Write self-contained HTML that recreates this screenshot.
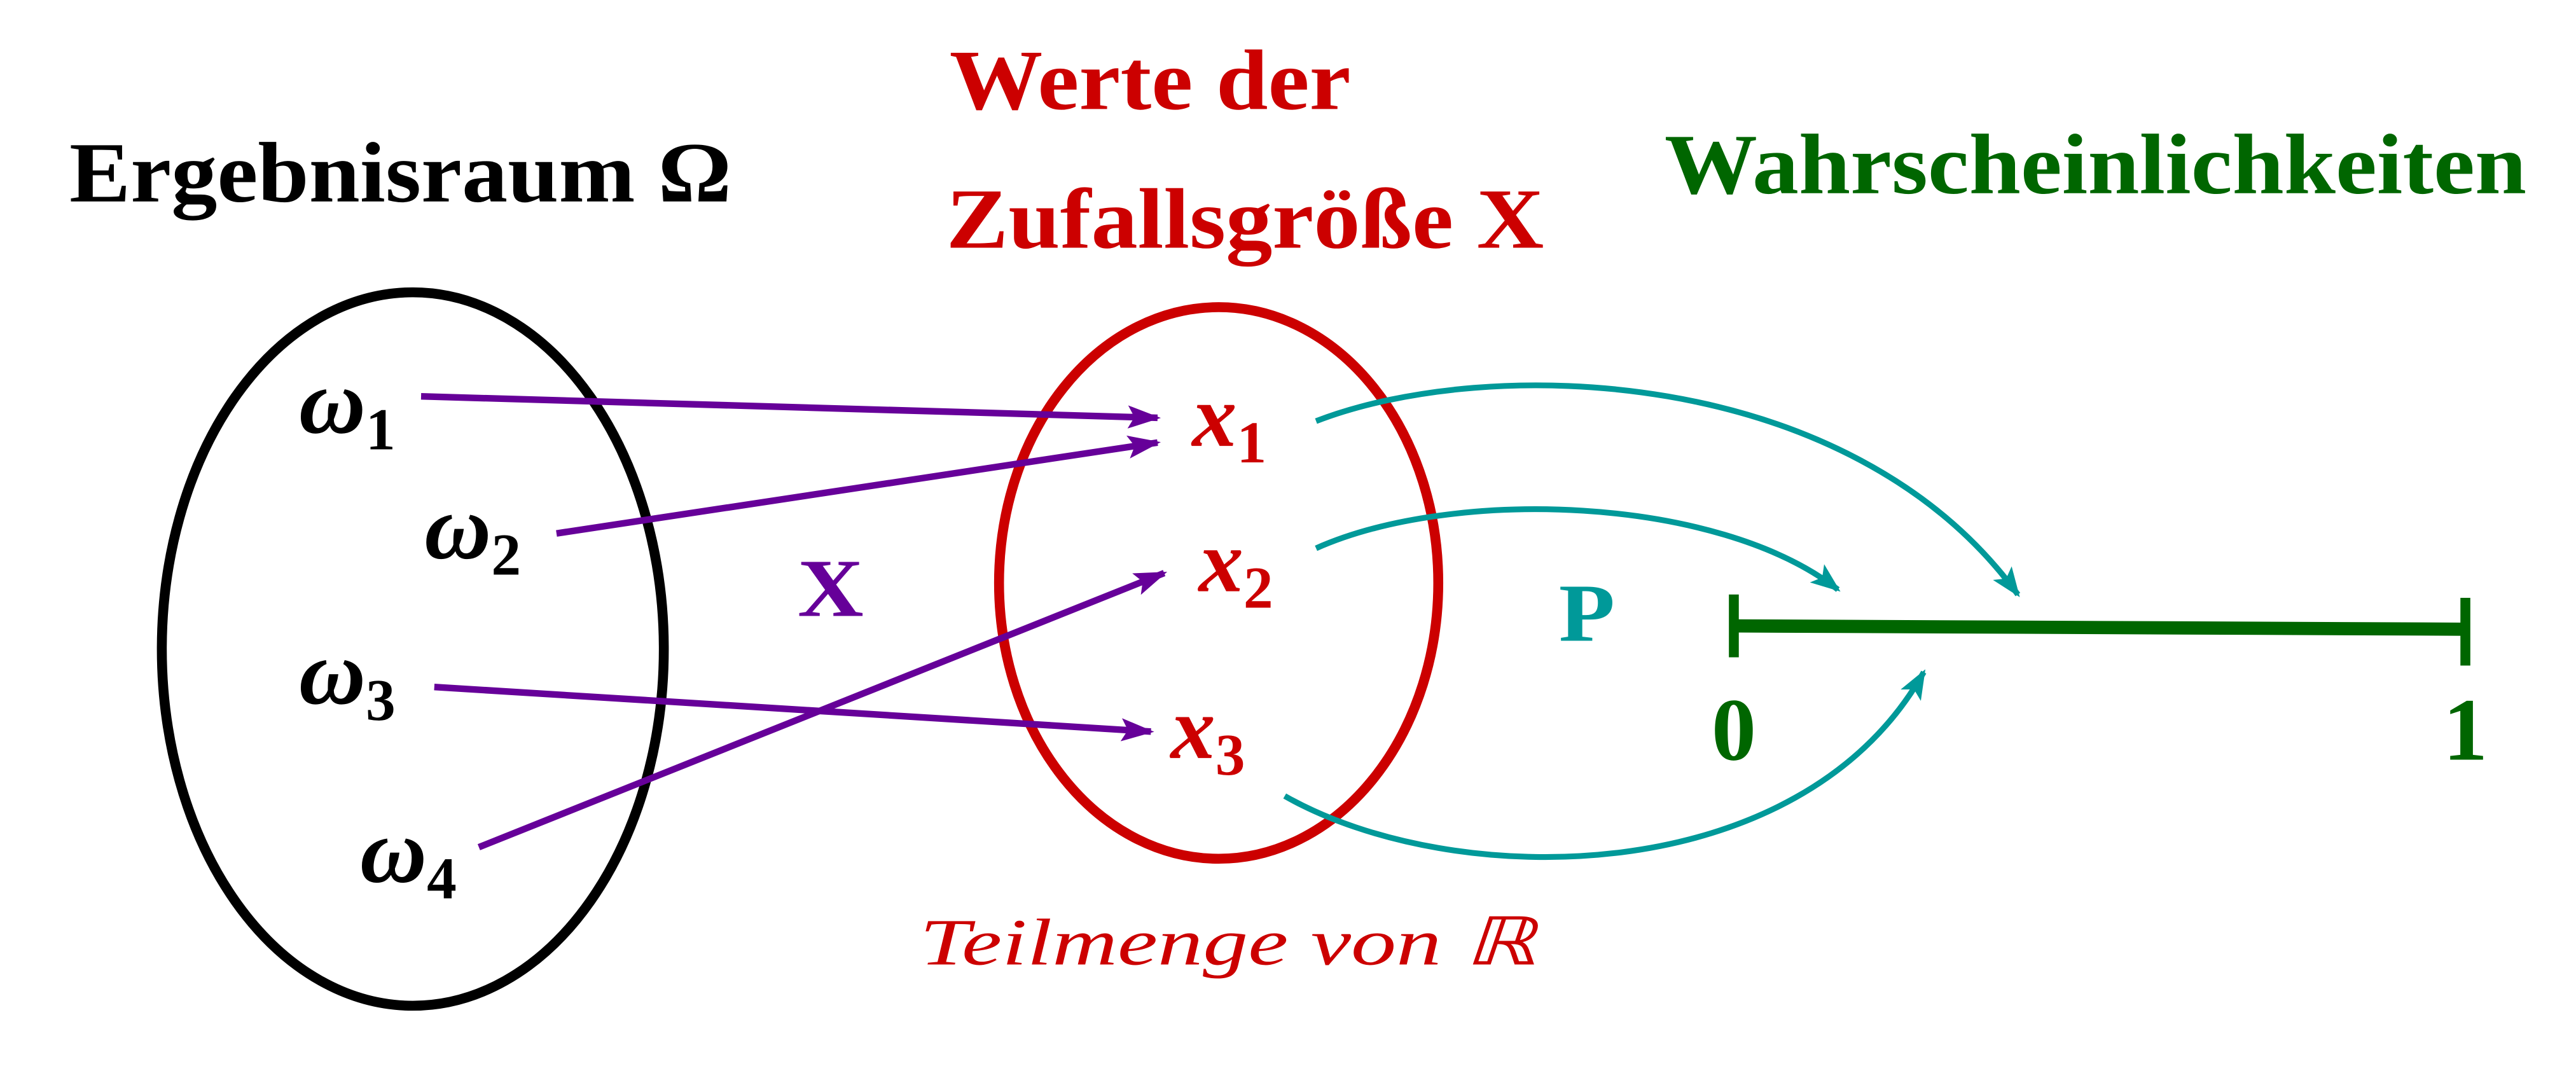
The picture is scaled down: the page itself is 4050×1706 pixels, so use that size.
<!DOCTYPE html>
<html><head><meta charset="utf-8"><style>html,body{margin:0;padding:0;background:#fff;}svg{display:block}</style></head>
<body>
<svg width="4050" height="1706" viewBox="0 0 1560 657" preserveAspectRatio="none" xmlns="http://www.w3.org/2000/svg">
<defs>
<marker id="ap" markerWidth="20" markerHeight="14" refX="18" refY="7" orient="auto" markerUnits="userSpaceOnUse" viewBox="0 0 20 14"><path d="M0,0 L20,7 L0,14 L4,7 Z" fill="#660099"/></marker>
<marker id="at" markerWidth="18" markerHeight="14" refX="16" refY="7" orient="auto" markerUnits="userSpaceOnUse" viewBox="0 0 18 14"><path d="M0,0 L18,7 L0,14 L4,7 Z" fill="#009999"/></marker>
</defs>
<g font-family="Liberation Serif, serif" font-weight="bold">
<text x="42" y="122" font-size="52" textLength="401" lengthAdjust="spacingAndGlyphs" fill="#000">Ergebnisraum Ω</text>
<text x="575" y="66" font-size="52" textLength="243" lengthAdjust="spacingAndGlyphs" fill="#cc0000">Werte der</text>
<text x="573" y="150" font-size="52" textLength="362" lengthAdjust="spacingAndGlyphs" fill="#cc0000">Zufallsgröße X</text>
<text x="1008" y="117" font-size="52" textLength="522" lengthAdjust="spacingAndGlyphs" fill="#006600">Wahrscheinlichkeiten</text>
<text x="483" y="373" font-size="50" textLength="40" lengthAdjust="spacingAndGlyphs" fill="#660099">X</text>
<text x="944" y="388" font-size="50" textLength="34" lengthAdjust="spacingAndGlyphs" fill="#009999">P</text>
<text x="1050" y="460" font-size="54" text-anchor="middle" fill="#006600">0</text>
<text x="1493" y="460" font-size="54" text-anchor="middle" fill="#006600">1</text>
</g>
<ellipse cx="250" cy="393" rx="152" ry="216" fill="none" stroke="#000" stroke-width="6"/>
<ellipse cx="738" cy="353" rx="133" ry="167" fill="none" stroke="#cc0000" stroke-width="6"/>
<g font-family="Liberation Serif, serif" font-style="italic" font-weight="bold" fill="#000">
<text x="181" y="262" font-size="56">ω<tspan font-size="36" font-style="normal" dy="10">1</tspan></text>
<text x="257" y="338" font-size="56">ω<tspan font-size="36" font-style="normal" dy="10">2</tspan></text>
<text x="181" y="426" font-size="56">ω<tspan font-size="36" font-style="normal" dy="10">3</tspan></text>
<text x="218" y="534" font-size="56">ω<tspan font-size="36" font-style="normal" dy="10">4</tspan></text>
</g>
<g font-family="Liberation Serif, serif" font-style="italic" font-weight="bold" fill="#cc0000">
<text x="722" y="270" font-size="54">x<tspan font-size="36" font-style="normal" dy="10">1</tspan></text>
<text x="726" y="358" font-size="54">x<tspan font-size="36" font-style="normal" dy="10">2</tspan></text>
<text x="709" y="459" font-size="54">x<tspan font-size="36" font-style="normal" dy="10">3</tspan></text>
</g>
<text x="557" y="584" font-family="Liberation Serif, serif" font-style="italic" font-size="40" textLength="373" lengthAdjust="spacingAndGlyphs" fill="#cc0000">Teilmenge von ℝ</text>
<g stroke="#660099" stroke-width="4" fill="none" marker-end="url(#ap)">
<line x1="255" y1="240" x2="701" y2="253"/>
<line x1="337" y1="323" x2="701" y2="268"/>
<line x1="263" y1="416" x2="697" y2="443"/>
<line x1="290" y1="513" x2="705" y2="347"/>
</g>
<g stroke="#009999" stroke-width="3.5" fill="none" marker-end="url(#at)">
<path d="M797,255 C900,215 1120,220 1222,360"/>
<path d="M797,332 C880,295 1040,300 1113,357"/>
<path d="M778,482 C880,540 1090,540 1165,407"/>
</g>
<g stroke="#006600" stroke-width="8" fill="none">
<line x1="1050" y1="379" x2="1493" y2="381"/>
<line x1="1050" y1="360" x2="1050" y2="398" stroke-width="6"/>
<line x1="1493" y1="362" x2="1493" y2="403" stroke-width="6"/>
</g>
</svg>
</body></html>
